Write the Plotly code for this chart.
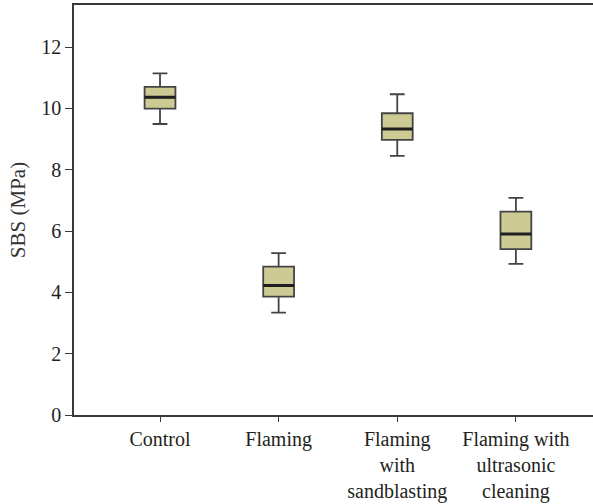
import plotly.graph_objects as go

categories = ["Control", "Flaming", "Flaming<br>with<br>sandblasting", "Flaming with<br>ultrasonic<br>cleaning"]
lower_whisker = [9.49, 3.34, 8.45, 4.93]
q1 = [9.99, 3.86, 8.97, 5.41]
median = [10.36, 4.22, 9.33, 5.90]
q3 = [10.70, 4.84, 9.84, 6.63]
upper_whisker = [11.14, 5.28, 10.46, 7.08]

xpos = list(range(len(categories)))

fig = go.Figure()
fig.add_trace(go.Box(
    x=xpos, q1=q1, median=median, q3=q3,
    lowerfence=lower_whisker, upperfence=upper_whisker,
    fillcolor="#CDCA94", line=dict(color="#444444", width=1.8),
    width=0.26, whiskerwidth=0.48, boxpoints=False, hoverinfo="skip",
    showlegend=False,
))
# thicker median line
fig.add_trace(go.Box(
    x=xpos, q1=median, median=median, q3=median,
    lowerfence=median, upperfence=median,
    fillcolor="rgba(0,0,0,0)", line=dict(color="#1e1e1e", width=3),
    width=0.26, whiskerwidth=0, boxpoints=False, hoverinfo="skip",
    showlegend=False,
))

font_family = "Liberation Serif, DejaVu Serif, serif"
fig.update_layout(
    width=593, height=504,
    margin=dict(l=74, r=0, t=5, b=89),
    plot_bgcolor="white", paper_bgcolor="white",
    font=dict(family=font_family, size=20, color="#231f20"),
    xaxis=dict(
        range=[-0.725, 3.65], tickmode="array", tickvals=xpos, ticktext=categories,
        showgrid=False, zeroline=False, showline=True, linecolor="#3a3a3a", linewidth=1.5,
        mirror=True, ticks="outside", ticklen=5, tickcolor="#3a3a3a", tickwidth=1,
        tickfont=dict(size=20), automargin=False,
    ),
    yaxis=dict(
        range=[0, 13.37], tickvals=[0, 2, 4, 6, 8, 10, 12],
        showgrid=False, zeroline=False, showline=True, linecolor="#3a3a3a", linewidth=1.5,
        ticks="outside", ticklen=7, tickcolor="#3a3a3a", tickwidth=1,
        tickfont=dict(size=20), automargin=False,
        title=dict(text="SBS (MPa)", font=dict(size=21, color="#333333"), standoff=10),
    ),
)

fig.write_html(
    "out.html",
    config={"displayModeBar": False},
    post_script="document.body.style.margin='0';document.body.style.overflow='hidden';",
)
